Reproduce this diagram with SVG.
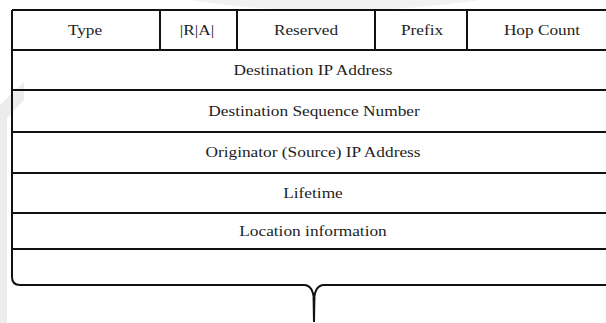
<svg xmlns="http://www.w3.org/2000/svg" width="606" height="323" viewBox="0 0 606 323">
<style>
.ln{stroke:#111;stroke-width:2;fill:none}
.t{font-family:"Liberation Serif","Times New Roman",serif;font-size:15px;fill:#1e1e1e;text-anchor:middle}
</style>
<rect x="0" y="0" width="606" height="323" fill="#fff"/>
<g id="watermark" fill="#ececec">
<polygon points="0,105 24,82 24,100 7,118 7,323 0,323"/>
<path d="M190,0 Q330,22 480,0 Z" fill="#f2f2f2"/>
</g>
<g id="frame">
<path class="ln" d="M12,10 H606"/>
<path class="ln" d="M12,10 V277 Q12,285 20,285 H304 Q313,285 314,300 V322 M314,300 Q315,285 324,285 H606"/>
<path d="M312.6,298 Q314,292 315.4,298 L315,322 H313 Z" fill="#111"/>
</g>
<g id="header">
<path class="ln" d="M12,50 H606"/>
<path class="ln" d="M160,10 V50 M237,10 V50 M375,10 V50 M467,10 V50"/>
<text class="t" transform="translate(85,35) scale(1.15,1)">Type</text>
<text class="t" transform="translate(197,35) scale(1.15,1)">|R|A|</text>
<text class="t" transform="translate(306,35) scale(1.15,1)">Reserved</text>
<text class="t" transform="translate(422,35) scale(1.15,1)">Prefix</text>
<text class="t" transform="translate(542,35) scale(1.15,1)">Hop Count</text>
</g>
<g id="rows">
<path class="ln" d="M12,90 H606 M12,132 H606 M12,173 H606 M12,213 H606 M12,249 H606"/>
<text class="t" transform="translate(313,75) scale(1.155,1)">Destination IP Address</text>
<text class="t" transform="translate(314,116) scale(1.155,1)">Destination Sequence Number</text>
<text class="t" transform="translate(313,157) scale(1.155,1)">Originator (Source) IP Address</text>
<text class="t" transform="translate(313,198) scale(1.155,1)">Lifetime</text>
<text class="t" transform="translate(313,236) scale(1.155,1)">Location information</text>
</g>
</svg>
